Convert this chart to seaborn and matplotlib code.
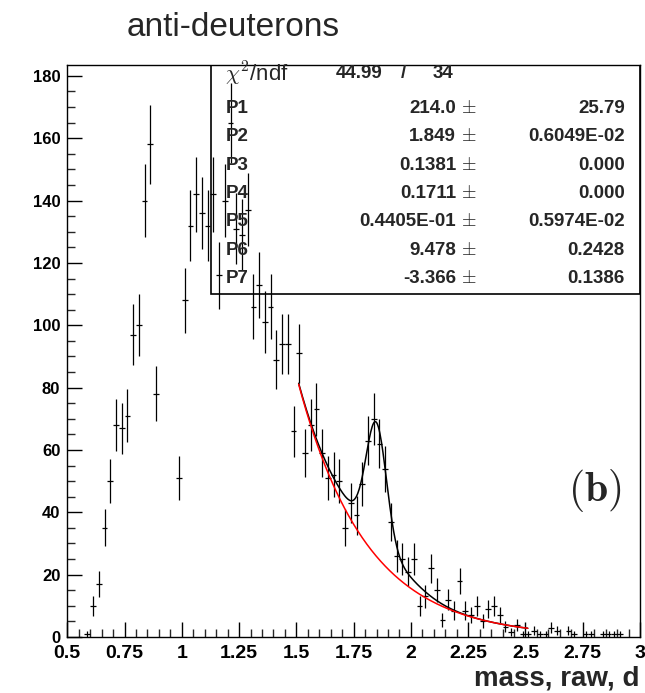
"""
Anti-deuteron raw mass spectrum with Gaussian + exponential fit (ROOT-style).
"""

import numpy as np
import matplotlib
matplotlib.use("Agg")
import matplotlib.pyplot as plt
from matplotlib.patches import Rectangle
from matplotlib.ticker import MultipleLocator, FuncFormatter
import seaborn as sns

# histogram bins (centre, content); empty bins are not drawn
mass_centres = [
    0.5875, 0.6125, 0.6375, 0.6625, 0.6875, 0.7125, 0.7375, 0.7625, 0.7875,
    0.8125, 0.8375, 0.8625, 0.8875, 0.9875, 1.0125, 1.0375, 1.0625, 1.0875,
    1.1125, 1.1375, 1.1625, 1.1875, 1.2125, 1.2375, 1.2625, 1.2875, 1.3125,
    1.3375, 1.3625, 1.3875, 1.4125, 1.4375, 1.4625, 1.4875, 1.5125, 1.5375,
    1.5625, 1.5875, 1.6125, 1.6375, 1.6625, 1.6875, 1.7125, 1.7375, 1.7625,
    1.7875, 1.8125, 1.8375, 1.8625, 1.8875, 1.9125, 1.9375, 1.9625, 1.9875,
    2.0125, 2.0375, 2.0625, 2.0875, 2.1125, 2.1375, 2.1625, 2.1875, 2.2125,
    2.2375, 2.2625, 2.2875, 2.3125, 2.3375, 2.3625, 2.3875, 2.4125, 2.4375,
    2.4625, 2.4875, 2.5125, 2.5375, 2.5625, 2.5875, 2.6125, 2.6375, 2.6875,
    2.7125, 2.7625, 2.7875, 2.8375, 2.8625, 2.8875, 2.9125,
]
counts = [
    1, 10, 17, 35, 50, 68, 67, 71, 97,
    100, 140, 158, 78, 51, 108, 132, 142, 136,
    132, 142, 116, 140, 165, 131, 129, 137, 106,
    113, 101, 106, 89, 94, 94, 66, 91, 59,
    68, 73, 59, 51, 52, 50, 35, 43, 39,
    49, 63, 70, 62, 54, 37, 26, 25, 21,
    25, 10, 13, 22, 15, 5.5, 12, 8.5, 18,
    8.5, 7, 10, 5, 9, 10, 7, 3.3, 1.7,
    3.9, 1, 1, 2, 1, 1, 3, 2, 2,
    1, 1, 1, 1, 1, 1, 1,
]
bin_half_width = 0.0125

# fit result as printed in the stat box
par_names = ["P1", "P2", "P3", "P4", "P5", "P6", "P7"]
par_values = ["214.0", "1.849", "0.1381", "0.1711", "0.4405E-01", "9.478", "-3.366"]
par_errors = ["25.79", "0.6049E-02", "0.000", "0.000", "0.5974E-02", "0.2428", "0.1386"]
chi2_text = "44.99"
ndf_text = "34"

peak_mean = 1.849
broad_sigma = 0.1381
broad_frac = 0.1711
peak_sigma = 0.04405
bg_const = 9.478
bg_slope = -3.366
peak_height = 43.0  # height of the peak above background
fit_lo, fit_hi = 1.51, 2.51

W, H = 645, 693


def fx(px):
    return px / W


def fy(py):
    return 1 - py / H


sns.set_style("ticks")
plt.rcParams['font.family'] = ['Liberation Sans', 'DejaVu Sans']
plt.rcParams['mathtext.fontset'] = 'cm'

fig = plt.figure(figsize=(W / 100, H / 100), dpi=100)
ax = fig.add_axes([fx(67.3), fy(637), fx(640) - fx(67.3), fy(65) - fy(637)])

counts_arr = np.array(counts, dtype=float)
ax.errorbar(mass_centres, counts_arr, xerr=bin_half_width, yerr=np.sqrt(counts_arr),
            fmt='none', ecolor='black', elinewidth=0.9, capsize=0)

# fit curves
x_fit = np.linspace(fit_lo, fit_hi, 300)
background = np.exp(bg_const + bg_slope * x_fit)
d = x_fit - peak_mean
peak = peak_height * (np.exp(-0.5 * (d / peak_sigma) ** 2)
                      + broad_frac * np.exp(-0.5 * (d / broad_sigma) ** 2)) / (1 + broad_frac)
sns.lineplot(x=x_fit, y=background + peak, color='black', linewidth=1.1, ax=ax)
sns.lineplot(x=x_fit, y=background, color='red', linewidth=1.1, ax=ax)

ax.set_xlim(0.5, 3.0)
ax.set_ylim(0, 183.5)
ax.xaxis.set_major_locator(MultipleLocator(0.25))
ax.xaxis.set_minor_locator(MultipleLocator(0.05))
ax.yaxis.set_major_locator(MultipleLocator(20))
ax.yaxis.set_minor_locator(MultipleLocator(5))
ax.xaxis.set_major_formatter(FuncFormatter(lambda v, p: f'{v:g}'))
ax.tick_params(which='major', direction='in', length=11, width=1, top=False, right=False,
               colors='black')
ax.tick_params(which='minor', direction='in', length=6, width=1, top=False, right=False)
ax.tick_params(axis='x', labelsize=14, pad=6)
ax.tick_params(axis='y', labelsize=12, pad=5)
for lab in ax.get_xticklabels() + ax.get_yticklabels():
    lab.set_fontweight('bold')
for sp in ax.spines.values():
    sp.set_visible(True)
    sp.set_linewidth(1)
    sp.set_color('black')

# stat box
ax.add_patch(Rectangle((fx(211), fy(294)), fx(640) - fx(211), fy(65) - fy(294),
                       transform=fig.transFigure, fill=False, edgecolor='black',
                       linewidth=1.2, zorder=5))
fig.text(fx(225), fy(74), r'$\chi^2$/ndf', fontsize=16, ha='left', va='center')
fig.text(fx(383), fy(73), chi2_text, fontsize=13.5, fontweight='bold', ha='right', va='center')
fig.text(fx(403), fy(73), '/', fontsize=13.5, fontweight='bold', ha='center', va='center')
fig.text(fx(453), fy(73), ndf_text, fontsize=13.5, fontweight='bold', ha='right', va='center')
row_y = [108.3, 136.7, 165, 193.3, 221.7, 250, 278.3]
for name, val, err, py in zip(par_names, par_values, par_errors, row_y):
    fig.text(fx(226), fy(py), name, fontsize=13.5, fontweight='bold', ha='left', va='center')
    fig.text(fx(456), fy(py), val, fontsize=13.5, fontweight='bold', ha='right', va='center')
    fig.text(fx(469), fy(py), r'$\pm$', fontsize=13.5, ha='center', va='center')
    fig.text(fx(625), fy(py), err, fontsize=13.5, fontweight='bold', ha='right', va='center')

fig.text(fx(595), fy(490), r'$\mathbf{(b)}$', fontsize=30, ha='center', va='center')
fig.text(fx(233), fy(28), 'anti-deuterons', fontsize=24, ha='center', va='center')
fig.text(fx(640), fy(678), 'mass, raw, d', fontsize=20, fontweight='bold',
         ha='right', va='center')

fig.savefig('out.png', dpi=100)
